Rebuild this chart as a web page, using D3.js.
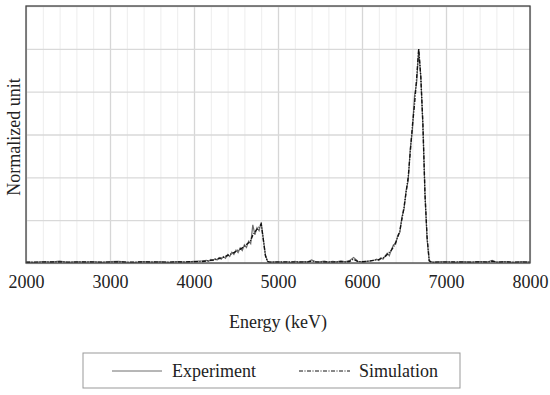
<!DOCTYPE html>
<html>
<head>
<meta charset="utf-8">
<script src="https://cdn.jsdelivr.net/npm/d3@7"></script>
<style>
  body { margin: 0; background: #fff; }
  svg { font-family: "Palatino Linotype", "Book Antiqua", Palatino, "Liberation Serif", serif; }
</style>
</head>
<body>
<svg width="550" height="395"></svg>
<script>
// energies (keV) and normalized counts
var energy = [
  2000,2100,2200,2300,2400,2500,2600,2700,2800,2900,3000,3100,3200,3300,3400,3500,3600,3700,3800,3900,4000,4100,
  4150,4175,4200,4225,4250,4275,4300,4325,4350,4375,4400,4425,4450,4475,4500,4525,4550,4575,4600,4625,4650,4675,4700,4725,4750,4775,4800,4825,4850,4875,4900,
  5000,5050,5100,5150,5200,5250,5300,5350,5400,5450,5500,5550,5600,5650,5700,5750,5800,5850,5900,5950,6000,6050,6100,6150,
  6175,6200,6225,6250,6275,6300,6325,6350,6375,6400,6425,6450,6475,6500,6525,6550,6575,6600,6625,6650,6675,6700,6725,6750,6775,6800,6825,6850,
  6900,7000,7100,7200,7300,7400,7500,7550,7600,7700,7800,7900,8000
];
var experiment = [
  0.005,0.003,0.007,0.004,0.009,0.003,0.006,0.004,0.007,0.003,0.006,0.008,0.004,0.003,0.007,0.004,0.006,0.003,0.007,0.004,0.008,0.010,
  0.012,0.008,0.016,0.011,0.020,0.014,0.025,0.018,0.030,0.022,0.040,0.030,0.050,0.040,0.060,0.048,0.070,0.058,0.085,0.072,0.102,0.090,0.178,0.132,0.165,0.150,0.190,0.112,0.038,0.008,0.004,
  0.006,0.004,0.007,0.003,0.008,0.004,0.007,0.005,0.014,0.006,0.005,0.009,0.004,0.008,0.005,0.010,0.006,0.011,0.026,0.008,0.005,0.008,0.010,0.014,
  0.018,0.012,0.024,0.018,0.032,0.046,0.034,0.062,0.085,0.088,0.128,0.142,0.214,0.250,0.338,0.385,0.535,0.620,0.780,0.840,0.995,0.870,0.640,0.320,0.110,0.012,0.005,0.004,
  0.005,0.007,0.003,0.006,0.004,0.007,0.005,0.012,0.004,0.007,0.003,0.006,0.004
];
var simulation = [
  0.003,0.004,0.004,0.005,0.005,0.004,0.004,0.005,0.004,0.004,0.004,0.005,0.004,0.004,0.005,0.005,0.004,0.004,0.005,0.005,0.006,0.007,
  0.009,0.011,0.012,0.014,0.016,0.018,0.021,0.024,0.027,0.031,0.035,0.039,0.044,0.049,0.054,0.060,0.065,0.071,0.078,0.086,0.095,0.105,0.130,0.145,0.158,0.168,0.182,0.110,0.035,0.007,0.004,
  0.004,0.005,0.004,0.005,0.004,0.005,0.004,0.005,0.008,0.005,0.004,0.005,0.005,0.004,0.005,0.006,0.005,0.007,0.018,0.007,0.006,0.007,0.010,0.013,
  0.014,0.016,0.020,0.024,0.030,0.040,0.050,0.060,0.075,0.095,0.120,0.150,0.205,0.260,0.330,0.400,0.520,0.640,0.740,0.860,1.000,0.870,0.650,0.320,0.120,0.010,0.004,0.003,
  0.004,0.004,0.005,0.004,0.004,0.005,0.004,0.008,0.004,0.005,0.004,0.004,0.004
];
var xTicks = [2000,3000,4000,5000,6000,7000,8000];
var legendNames = ["Experiment", "Simulation"];

var svg = d3.select("svg");
var mLeft = 26, mRight = 530, mTop = 6, mBottom = 263;
var w = mRight - mLeft, h = mBottom - mTop;

var x = d3.scaleLinear().domain([2000, 8000]).range([mLeft, mRight]);
var y = d3.scaleLinear().domain([0, 1.2]).range([mBottom, mTop]);

function clean(g) {
    g.attr("font-family", null).attr("font-size", null);
    g.select(".domain").remove();
}

// minor vertical grid
svg.append("g")
    .attr("transform", "translate(0," + mBottom + ")")
    .call(d3.axisBottom(x).ticks(30).tickSize(-h).tickFormat(""))
    .call(clean)
    .call(function(g) {
        g.selectAll("line").attr("stroke", "#ededed").attr("stroke-width", 1);
    });

// major vertical grid
svg.append("g")
    .attr("transform", "translate(0," + mBottom + ")")
    .call(d3.axisBottom(x).tickValues(xTicks).tickSize(-h).tickFormat(""))
    .call(clean)
    .call(function(g) {
        g.selectAll("line").attr("stroke", "#d6d6d6").attr("stroke-width", 1.3);
    });

// horizontal grid
svg.append("g")
    .attr("transform", "translate(" + mLeft + ",0)")
    .call(d3.axisLeft(y).ticks(6).tickSize(-w).tickFormat(""))
    .call(clean)
    .call(function(g) {
        g.selectAll("line").attr("stroke", "#d9d9d9").attr("stroke-width", 1.3);
    });

// tick labels
svg.append("g")
    .attr("transform", "translate(0," + mBottom + ")")
    .call(d3.axisBottom(x).tickValues(xTicks).tickSize(0).tickPadding(12).tickFormat(d3.format("d")))
    .call(clean)
    .call(function(g) {
        g.selectAll("text").style("font-size", "18px").attr("fill", "#222");
    });

var line = d3.line()
    .x(function(d) { return x(d[0]); })
    .y(function(d) { return y(d[1]); });

svg.append("path")
    .datum(d3.zip(energy, experiment))
    .attr("fill", "none")
    .attr("stroke", "#6e6e6e")
    .attr("stroke-width", 1.2)
    .attr("d", line);

svg.append("path")
    .datum(d3.zip(energy, simulation))
    .attr("fill", "none")
    .attr("stroke", "#111")
    .attr("stroke-width", 1.4)
    .attr("stroke-dasharray", "4,1.5,1,1.5")
    .attr("d", line);

// plot border
svg.append("rect")
    .attr("x", mLeft).attr("y", mTop)
    .attr("width", w).attr("height", h)
    .attr("fill", "none")
    .attr("stroke", "#444")
    .attr("stroke-width", 1.3);

// axis titles
svg.append("text")
    .attr("x", (mLeft + mRight) / 2)
    .attr("y", 328)
    .attr("text-anchor", "middle")
    .style("font-size", "18px")
    .attr("fill", "#222")
    .text("Energy (keV)");

svg.append("text")
    .attr("transform", "translate(20," + 137 + ") rotate(-90)")
    .attr("text-anchor", "middle")
    .style("font-size", "18px")
    .attr("fill", "#222")
    .text("Normalized unit");

// legend
var lg = svg.append("g");
lg.append("rect")
    .attr("x", 83).attr("y", 353)
    .attr("width", 377).attr("height", 35)
    .attr("fill", "#fff")
    .attr("stroke", "#999")
    .attr("stroke-width", 1);

var legendItems = [
    { name: legendNames[0], x1: 112, x2: 162, tx: 172, stroke: "#6e6e6e", dash: null },
    { name: legendNames[1], x1: 299, x2: 350, tx: 359, stroke: "#111", dash: "4,1.5,1,1.5" }
];
legendItems.forEach(function(it) {
    lg.append("line")
        .attr("x1", it.x1).attr("x2", it.x2)
        .attr("y1", 371).attr("y2", 371)
        .attr("stroke", it.stroke)
        .attr("stroke-width", 1)
        .attr("stroke-dasharray", it.dash);
    lg.append("text")
        .attr("x", it.tx).attr("y", 377)
        .style("font-size", "18px")
        .attr("fill", "#222")
        .text(it.name);
});
</script>
</body>
</html>
